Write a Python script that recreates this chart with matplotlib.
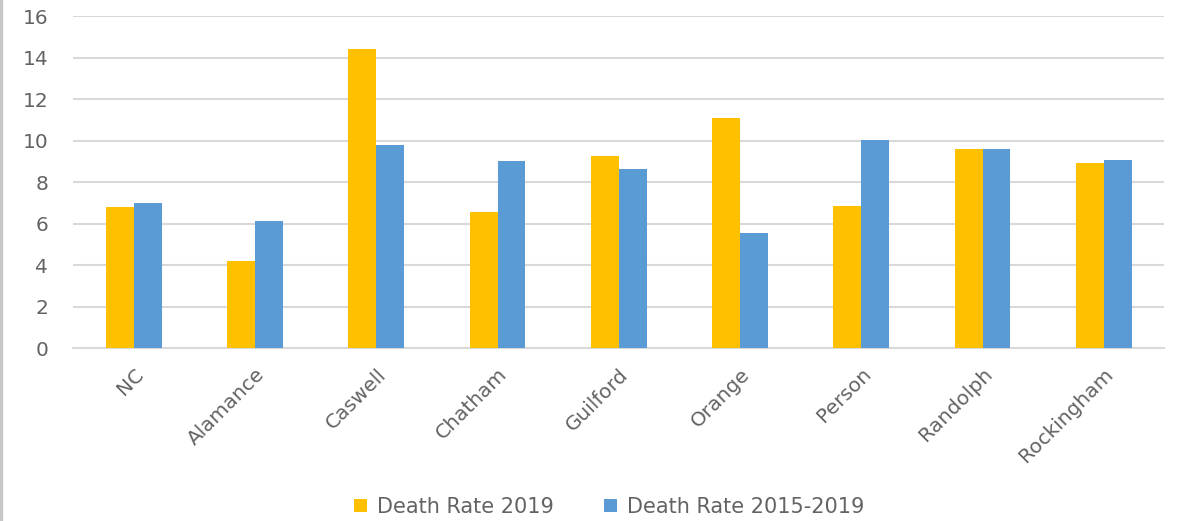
import numpy as np
from matplotlib import pyplot as plt

plt.rcParams['font.family'] = ['DejaVu Sans']

counties = ['NC', 'Alamance', 'Caswell', 'Chatham', 'Guilford', 'Orange',
            'Person', 'Randolph', 'Rockingham']
rate_2019 = [6.8, 4.2, 14.4, 6.55, 9.25, 11.1, 6.85, 9.6, 8.9]
rate_2015_2019 = [7.0, 6.1, 9.8, 9.0, 8.65, 5.55, 10.05, 9.6, 9.05]
y_ticks = [0, 2, 4, 6, 8, 10, 12, 14, 16]

text_color = '#636363'
grid_color = '#d9d9d9'

fig = plt.figure(figsize=(11.81, 5.21), dpi=100)
axes = fig.add_axes([0.062, 0.332, 0.924, 0.637])

x = np.arange(len(counties))
width = 0.23
axes.bar(x - width / 2, rate_2019, width, color='#ffc000', label='Death Rate 2019', zorder=3)
axes.bar(x + width / 2, rate_2015_2019, width, color='#5b9bd5', label='Death Rate 2015-2019', zorder=3)

axes.set_xlim(-0.5, len(counties) - 0.5)
axes.set_ylim(0, 16)
axes.set_yticks(y_ticks)
axes.yaxis.grid(True, color=grid_color, linewidth=1.5, zorder=0)
for side in ['top', 'right', 'left']:
    axes.spines[side].set_visible(False)
axes.spines['bottom'].set_color(grid_color)
axes.spines['bottom'].set_linewidth(1.5)
axes.tick_params(axis='both', length=0, colors=text_color, labelsize=14.5)
axes.tick_params(axis='y', pad=18)
axes.tick_params(axis='x', pad=12)
axes.set_xticks(x)
axes.set_xticklabels(counties, rotation=45, ha='right', rotation_mode='anchor')

fig.legend(loc='lower center', bbox_to_anchor=(0.516, -0.028), ncol=2, frameon=False,
           fontsize=15, labelcolor=text_color, handlelength=0.6, handleheight=0.6,
           columnspacing=2.4, handletextpad=0.5)

fig.patches.append(plt.Rectangle((0, 0), 0.002, 1, transform=fig.transFigure,
                                 color='#c8c8c8', zorder=0))

fig.savefig('out.png', dpi=100)
